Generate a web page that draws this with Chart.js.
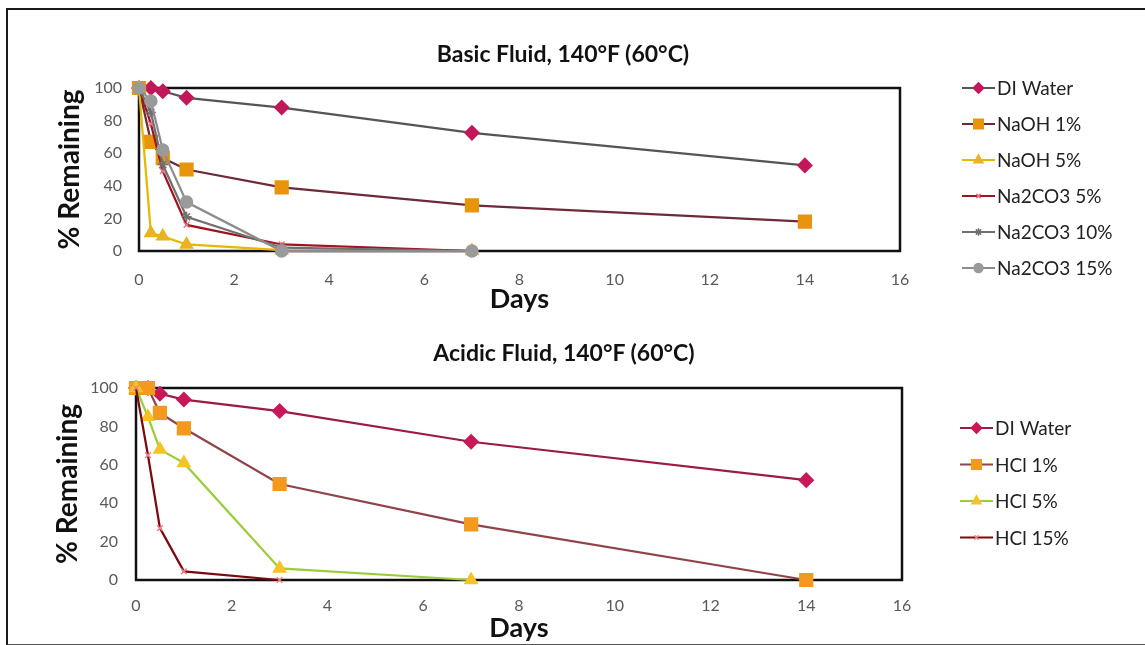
<!DOCTYPE html>
<html>
<head>
<meta charset="utf-8">
<script src="https://cdn.jsdelivr.net/npm/chart.js@4.4.1/dist/chart.umd.min.js"></script>
<style>
body{margin:0;background:#fff;width:1145px;height:645px;overflow:hidden;position:relative;font-family:Lato, sans-serif}
.frame{position:absolute;left:6px;top:8px;width:1200px;height:634px;border:2px solid #1a1a1a;border-right:none;border-bottom-color:#555}
.ttl{position:absolute;width:500px;margin-left:-250px;text-align:center;font-weight:bold;font-size:23px;color:#111;line-height:28px}
canvas{position:absolute;left:0}
</style>
</head>
<body>
<div class="frame"></div>
<canvas id="basicChart" width="1145" height="325" style="top:0"></canvas>
<canvas id="acidChart" width="1145" height="320" style="top:325px"></canvas>
<div class="ttl" style="left:563px;top:39px">Basic Fluid, 140°F (60°C)</div>
<div class="ttl" style="left:564px;top:338px">Acidic Fluid, 140°F (60°C)</div>
<script>
// ===== data =====
const days = [0, 0.25, 0.5, 1, 3, 7, 14];

// Basic fluid
const basicDiWater  = [100, 100, 98, 94, 88, 72.5, 52.5];
const naoh1         = [100, 67, 57, 50, 39, 28, 18];
const naoh5         = [100, 11, 9, 4, 0.5, 0, null];
const na2co3_5      = [100, 78, 49, 16, 4, 0, null];
const na2co3_10     = [100, 85, 53, 21, 2, 0, null];
const na2co3_15     = [100, 92, 62, 30, 0, 0, null];

// Acidic fluid
const acidDiWater   = [100, 100, 97, 94, 88, 72, 52];
const hcl1          = [100, 100, 87, 79, 50, 29, 0];
const hcl5          = [100, 85, 68, 61, 6, 0, null];
const hcl15         = [100, 65, 27, 4.5, 0, null, null];

const FONT = 'Lato';

function toPoints(values){
    return days.map((d, i) => ({x: d, y: values[i]})).filter(p => p.y !== null);
}

function series(label, values, line, fill, style, radius, border){
    return {
        label: label,
        data: toPoints(values),
        borderColor: line,
        borderWidth: 2.25,
        pointBackgroundColor: fill,
        pointBorderColor: border || fill,
        pointBorderWidth: 1.5,
        pointStyle: style,
        pointRadius: radius,
        tension: 0,
        clip: 10
    };
}

// ===== plugins =====
const plotFrame = {
    id: 'plotFrame',
    beforeDatasetsDraw(chart){
        const {ctx, chartArea: a} = chart;
        ctx.save();
        ctx.lineWidth = 2.5;
        ctx.strokeStyle = '#111';
        ctx.strokeRect(a.left, a.top, a.right - a.left, a.bottom - a.top);
        ctx.restore();
    }
};

const sideLegend = {
    id: 'sideLegend',
    afterDraw(chart, args, opts){
        const ctx = chart.ctx;
        ctx.save();
        chart.data.datasets.forEach((ds, i) => {
            const y = opts.top + i * opts.gap;
            ctx.strokeStyle = ds.borderColor;
            ctx.lineWidth = 2;
            ctx.beginPath();
            ctx.moveTo(opts.left, y);
            ctx.lineTo(opts.left + 33, y);
            ctx.stroke();
            ctx.fillStyle = ds.pointBackgroundColor;
            ctx.strokeStyle = ds.pointBorderColor;
            ctx.lineWidth = 1.5;
            if (Chart.helpers && Chart.helpers.drawPoint) {
                Chart.helpers.drawPoint(ctx, {pointStyle: ds.pointStyle, radius: ds.pointRadius * 0.75, rotation: 0, borderWidth: 1.5}, opts.left + 16.5, y);
            }
            ctx.fillStyle = '#222';
            ctx.font = '19px ' + FONT;
            ctx.textBaseline = 'middle';
            ctx.textAlign = 'left';
            ctx.fillText(ds.label, opts.left + 35, y + 1);
        });
        ctx.restore();
    }
};

function makeOptions(pad, yWidth, tickPadX, tickPadY, legend){
    return {
        responsive: false,
        animation: false,
        devicePixelRatio: 1,
        layout: {padding: pad},
        plugins: {
            legend: {display: false},
            tooltip: {enabled: false},
            title: {display: false},
            sideLegend: legend
        },
        scales: {
            x: {
                type: 'linear', min: 0, max: 16,
                ticks: {stepSize: 2, padding: tickPadX, color: '#595959', font: {family: FONT, size: 16}},
                grid: {display: false, drawTicks: false},
                border: {display: false},
                title: {display: true, text: 'Days', color: '#111', padding: 0, font: {family: FONT, size: 27, weight: 'bold'}},
                afterFit(s){ s.height = 64; }
            },
            y: {
                min: 0, max: 100,
                ticks: {stepSize: 20, padding: tickPadY, color: '#595959', font: {family: FONT, size: 16}},
                grid: {display: false, drawTicks: false},
                border: {display: false},
                title: {display: true, text: '% Remaining', color: '#111', padding: 0, font: {family: FONT, size: 28, weight: 'bold'}},
                afterFit(s){ s.width = yWidth; }
            }
        }
    };
}

function orderSets(sets){
    sets.forEach((s, i) => s.order = sets.length - i);
    return sets;
}

// ===== Basic fluid chart =====
new Chart(document.getElementById('basicChart'), {
    type: 'line',
    data: {
        datasets: orderSets([
            series('DI Water',    basicDiWater, '#555555', '#C2185B', 'rectRot', 7),
            series('NaOH 1%',     naoh1,        '#6B2B38', '#E8940C', 'rect', 9),
            series('NaOH 5%',     naoh5,        '#E6B800', '#E8B422', 'triangle', 7),
            series('Na2CO3 5%',   na2co3_5,     '#A0141E', '#F08080', 'crossRot', 4, '#F07080'),
            series('Na2CO3 10%',  na2co3_10,    '#707070', '#808080', 'star', 5, '#707070'),
            series('Na2CO3 15%',  na2co3_15,    '#8C8C8C', '#9A9A9A', 'circle', 6)
        ])
    },
    options: makeOptions({left: 53, right: 245, top: 88, bottom: 10}, 86, 19, 17, {left: 962, top: 88, gap: 36}),
    plugins: [plotFrame, sideLegend]
});

// ===== Acidic fluid chart =====
new Chart(document.getElementById('acidChart'), {
    type: 'line',
    data: {
        datasets: orderSets([
            series('DI Water', acidDiWater, '#9B1B42', '#C8185A', 'rectRot', 7),
            series('HCl 1%',   hcl1,        '#8E4448', '#F39A1E', 'rect', 9),
            series('HCl 5%',   hcl5,        '#9CCB3C', '#F5C324', 'triangle', 7),
            series('HCl 15%',  hcl15,       '#7A0A10', '#F08A8A', 'crossRot', 4, '#F08080')
        ])
    },
    options: makeOptions({left: 51, right: 243, top: 63, bottom: 1}, 85, 16, 18, {left: 960, top: 103, gap: 36.5}),
    plugins: [plotFrame, sideLegend]
});
</script>
</body>
</html>
